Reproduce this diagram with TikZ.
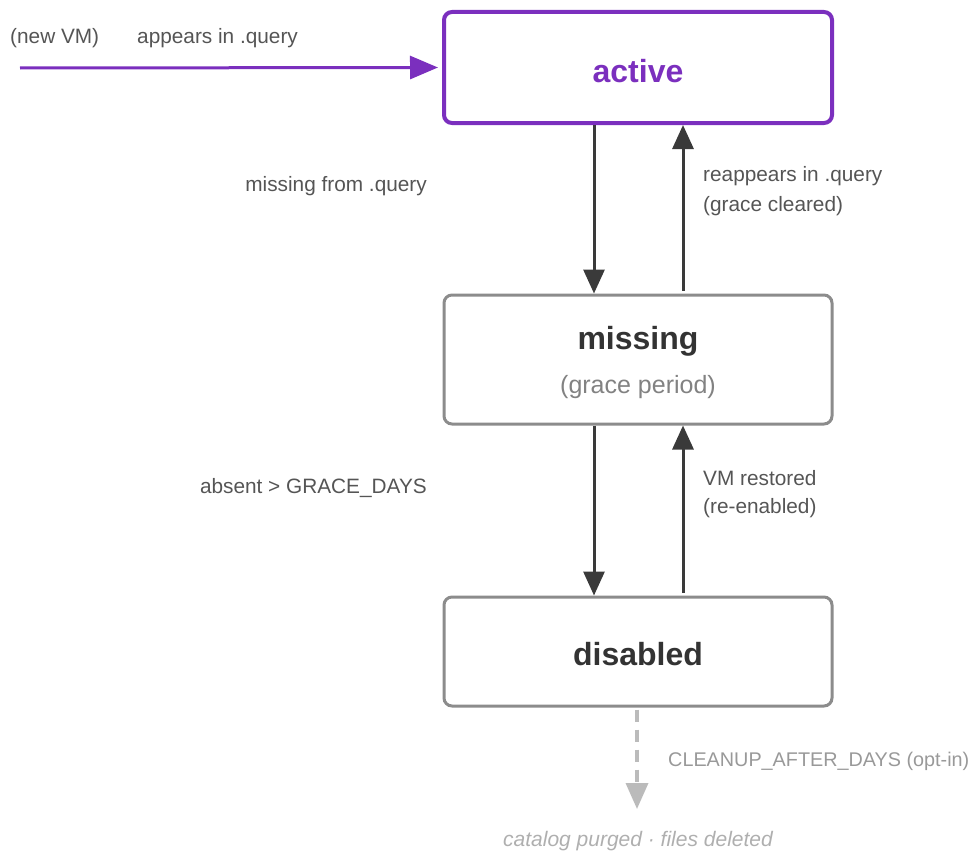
\documentclass[tikz,border=0pt]{standalone}
\usepackage{fontspec}
\setmainfont{Liberation Sans}
\usetikzlibrary{arrows.meta,calc}
\definecolor{vmpurple}{HTML}{7B2FBE}
\definecolor{arrowdark}{HTML}{3A3A3A}
\definecolor{boxgray}{HTML}{8C8C8C}
\definecolor{labelgray}{HTML}{555555}
\definecolor{titledark}{HTML}{333333}
\definecolor{softgray}{HTML}{999999}
\definecolor{dashgray}{HTML}{BBBBBB}
\tikzset{
  statebox/.style={draw=boxgray, line width=3pt, rounded corners=8pt, fill=white,
    minimum width=388pt, inner sep=0pt},
  flow/.style={draw=arrowdark, line width=3pt, -{Triangle[length=24pt,width=21pt]}},
  lbl/.style={text=labelgray, font=\fontsize{20.8}{24}\selectfont, inner sep=0pt, align=left},
  title/.style={font=\fontsize{32}{38}\selectfont\bfseries, text=titledark},
}
\begin{document}
\begin{tikzpicture}[x=1pt,y=-1pt]
  \useasboundingbox (0,0) rectangle (971,851);

  % states
  \node[statebox, draw=vmpurple, line width=4pt, minimum height=111pt] (active) at (638,67.5) {};
  \node[title, text=vmpurple] (activeT) at (638,71) {active};
  \node[statebox, minimum height=129pt] (missing) at (638,359.5) {};
  \node[title] (missingT) at (638,341) {missing};
  \node[text=softgray!85!black, font=\fontsize{25}{30}\selectfont] (missingS) at (638,387) {(grace period)};
  \node[statebox, minimum height=109pt] (disabled) at (638,651.5) {};
  \node[title] (disabledT) at (638,654) {disabled};

  % entry
  \coordinate (entry) at (20,68);
  \draw[draw=vmpurple, line width=3pt, -{Triangle[length=28pt,width=23pt]}] (entry) -- ($(active.west)+(-4,0)$);
  \node[lbl, anchor=west] (newvm) at (10,38) {(new VM)};
  \node[lbl, anchor=west] (appears) at (137,38) {appears in .query};

  % active <-> missing
  \draw[flow] ($(active.south)+(-44,0)$) -- ($(missing.north)+(-44,0)$);
  \draw[flow, shorten <=3pt] ($(missing.north)+(45,0)$) -- ($(active.south)+(45,0)$);
  \node[lbl, anchor=east] (lostq) at (427,186) {missing from .query};
  \node[lbl, anchor=west] (backq) at (703,176) {reappears in .query};
  \node[lbl, anchor=west] (backq2) at (703,206) {(grace cleared)};

  % missing <-> disabled
  \draw[flow] ($(missing.south)+(-44,0)$) -- ($(disabled.north)+(-44,0)$);
  \draw[flow, shorten <=3pt] ($(disabled.north)+(45,0)$) -- ($(missing.south)+(45,0)$);
  \node[lbl, anchor=east] (absent) at (427,488) {absent > GRACE\_DAYS};
  \node[lbl, anchor=west] (restored) at (703,478) {VM restored};
  \node[lbl, anchor=west] (restored2) at (703,508) {(re-enabled)};

  % optional cleanup
  \coordinate (purge) at (637,809);
  \draw[draw=dashgray, line width=3.5pt, dash pattern=on 12pt off 8pt,
    -{Triangle[length=26pt,width=22pt]}] ($(disabled.south)+(-1,2)$) -- (purge);
  \node[lbl, text=softgray, font=\fontsize{19.8}{24}\selectfont, anchor=west] (cleanup) at (668,761)
    {CLEANUP\_AFTER\_DAYS (opt-in)};
  \node[lbl, text=dashgray!80!gray, font=\fontsize{21}{25}\selectfont\itshape] (purged) at (638,841)
    {catalog purged · files deleted};
\end{tikzpicture}
\end{document}
